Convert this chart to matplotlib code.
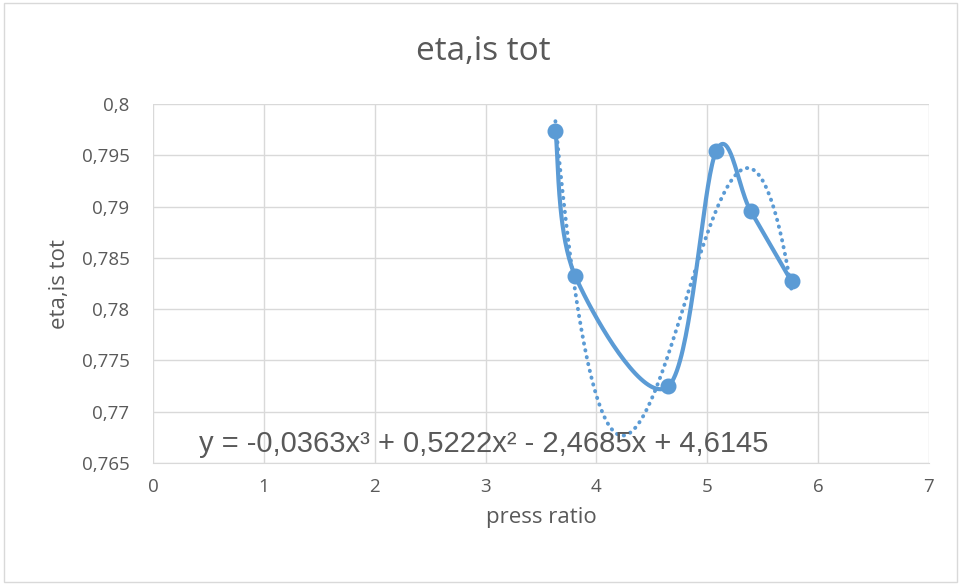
import numpy as np
import matplotlib
matplotlib.use('Agg')
import matplotlib.pyplot as plt
from matplotlib.ticker import MultipleLocator, FuncFormatter
from matplotlib.patches import Rectangle

# data
press_ratio = [3.63, 3.81, 4.65, 5.08, 5.39, 5.76]
eta_is_tot = [0.7974, 0.7832, 0.7725, 0.7954, 0.7896, 0.7827]

title = 'eta,is tot'
x_label = 'press ratio'
y_label = 'eta,is tot'
equation = 'y = -0,0363x³ + 0,5222x² - 2,4685x + 4,6145'

BLUE = '#5B9BD5'
GRID = '#D9D9D9'
TEXT = '#595959'


def smooth_line(xs, ys, n=40):
    """Excel-like smoothed line: bezier segments with catmull-rom control points"""
    pts = np.column_stack([xs, ys])
    ext = np.vstack([pts[0], pts, pts[-1]])
    out = []
    t = np.linspace(0, 1, n)[:, None]
    for i in range(len(pts) - 1):
        p0, p1 = ext[i + 1], ext[i + 2]
        c1 = p0 + (ext[i + 2] - ext[i]) / 6
        c2 = p1 - (ext[i + 3] - ext[i + 1]) / 6
        seg = ((1 - t) ** 3) * p0 + 3 * ((1 - t) ** 2) * t * c1 + 3 * (1 - t) * t ** 2 * c2 + t ** 3 * p1
        out.append(seg if i == 0 else seg[1:])
    out = np.vstack(out)
    return out[:, 0], out[:, 1]


fig = plt.figure(figsize=(9.61, 5.85), dpi=100)
ax = fig.add_axes([0.1592, 0.2085, 0.8075, 0.6137])

# chart border
fig.patches.append(Rectangle((0.004, 0.005), 0.992, 0.99, transform=fig.transFigure,
                             fill=False, edgecolor=GRID, linewidth=1))

# cubic trendline over the data range
coef = np.polyfit(press_ratio, eta_is_tot, 3)
xt = np.linspace(min(press_ratio), max(press_ratio), 200)
ax.plot(xt, np.polyval(coef, xt), color=BLUE, linewidth=2.8,
        linestyle=(0, (0.1, 1.7)), dash_capstyle='round', zorder=3)

sx, sy = smooth_line(press_ratio, eta_is_tot)
ax.plot(sx, sy, color=BLUE, linewidth=3, solid_capstyle='round', zorder=4)
ax.plot(press_ratio, eta_is_tot, 'o', color=BLUE, markersize=10.5, zorder=5)

ax.set_xlim(0, 7)
ax.set_ylim(0.765, 0.8)
ax.xaxis.set_major_locator(MultipleLocator(1))
ax.yaxis.set_major_locator(MultipleLocator(0.005))
ax.yaxis.set_major_formatter(FuncFormatter(lambda v, p: f'{round(v, 4):g}'.replace('.', ',')))
ax.xaxis.set_major_formatter(FuncFormatter(lambda v, p: f'{v:g}'))
ax.grid(True, color=GRID, linewidth=1)
ax.set_axisbelow(True)
for s in ax.spines.values():
    s.set_visible(False)
ax.spines['bottom'].set_visible(True)
ax.spines['bottom'].set_color(GRID)
ax.tick_params(axis='y', length=0, labelsize=13.5, colors=TEXT, pad=17)
ax.tick_params(axis='x', length=0, labelsize=13.5, colors=TEXT, pad=11)
for lbl in ax.get_xticklabels() + ax.get_yticklabels():
    lbl.set_family('Open Sans')

fig.text(483 / 961, 1 - 52 / 585, title, ha='center', va='center', fontsize=24,
         color=TEXT, family='Open Sans')
ax.set_xlabel(x_label, fontsize=16, color=TEXT, family='Open Sans', labelpad=8)
ax.set_ylabel(y_label, fontsize=16, color=TEXT, family='Open Sans', labelpad=8)

ax.text(2.98, 0.7669, equation, ha='center', va='center', fontsize=21,
        color=TEXT, family='Liberation Sans', zorder=6)

fig.savefig('out.png', dpi=100)
